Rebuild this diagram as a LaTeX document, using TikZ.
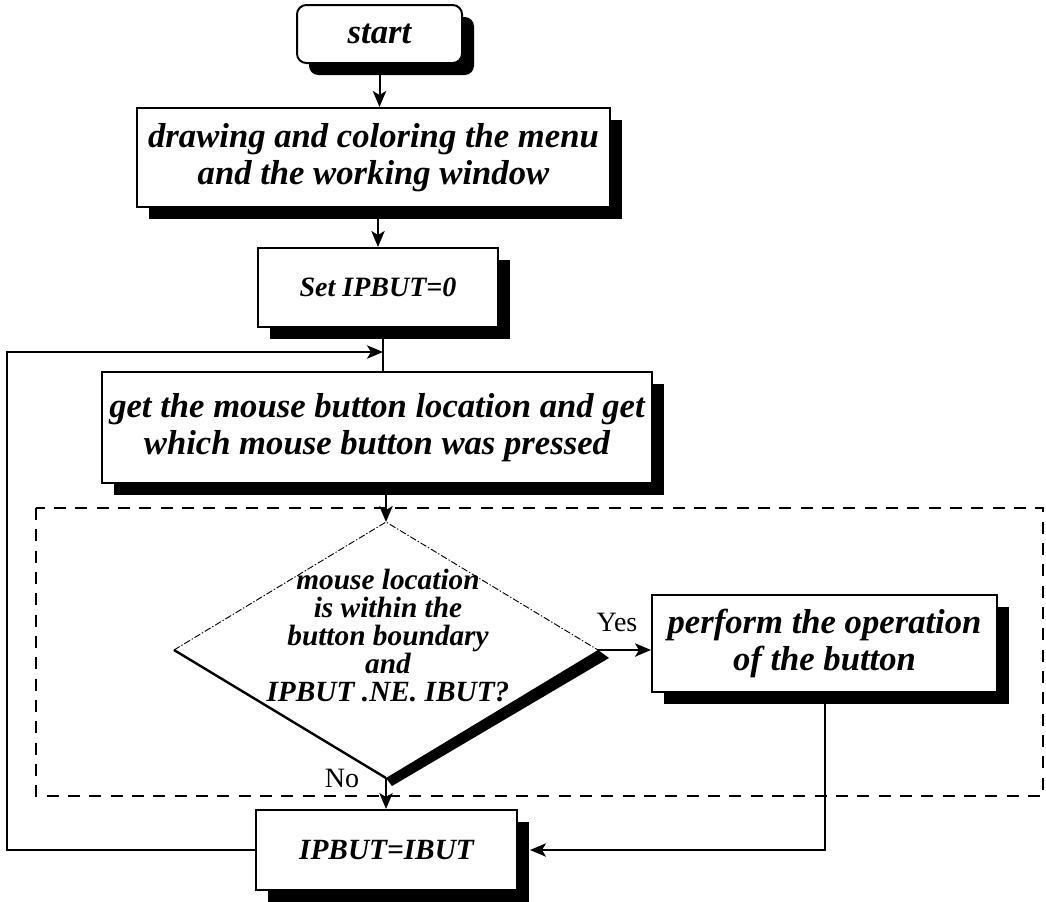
\documentclass[tikz,border=0pt]{standalone}
\usepackage{fontspec}
\setmainfont{Liberation Serif}
\usetikzlibrary{arrows.meta,shapes.geometric,shadows,calc}
\begin{document}
\begin{tikzpicture}[x=0.75pt,y=-0.75pt,
  box/.style={draw, line width=1.5pt, fill=white, align=center, inner sep=2pt,
    font=\bfseries\itshape\fontsize{26}{28}\selectfont,
    drop shadow={shadow xshift=9pt, shadow yshift=-9pt, fill=black, opacity=1}},
  dtext/.style={align=center, inner sep=0pt,
    font=\bfseries\itshape\fontsize{22}{21}\selectfont},
  lab/.style={inner sep=0pt, font=\fontsize{21}{24}\selectfont},
  conn/.style={line width=1.5pt},
  arr/.style={line width=1.5pt, -{Stealth[length=12pt,width=10pt,inset=3pt]}},
  frame/.style={line width=1.8pt, dash pattern=on 9pt off 7pt},
  faint/.style={line width=0.7pt, dash pattern=on 5pt off 1.5pt on 1pt off 1.5pt}
]
\useasboundingbox (0,0) rectangle (1046,901);

% group frame around the decision
\draw[frame] (36,508) rectangle (1043,796);

% process boxes
\node[box, rounded corners=7pt, minimum width=123.75pt, minimum height=43.5pt] (start) at (379.5,34) {start};
\node[box, minimum width=354.75pt, minimum height=74.25pt] (init) at (373.5,157.5)
  {drawing and coloring the menu\\and the working window};
\node[box, minimum width=180pt, minimum height=59.25pt,
  font=\bfseries\itshape\fontsize{21}{24}\selectfont] (set) at (378,287.5) {Set IPBUT=0};
\node[box, minimum width=412.5pt, minimum height=83.25pt] (get) at (377,427.5)
  {get the mouse button location and get\\which mouse button was pressed};
\node[box, minimum width=258.75pt, minimum height=72.75pt] (perf) at (824.5,643.5)
  {perform the operation\\of the button};
\node[box, minimum width=195.75pt, minimum height=60pt,
  font=\bfseries\itshape\fontsize{22}{24}\selectfont] (upd) at (386.5,850) {IPBUT=IBUT};

% decision diamond, edges drawn one by one
\node[diamond, minimum width=318pt, minimum height=192pt, inner sep=0pt, outer sep=0pt] (dec) at (386,650) {};
\fill (dec.east) -- ++(11,8) -- ($(dec.south)+(6,8)$) -- (dec.south) -- cycle;
\draw[faint] (dec.west) -- (dec.north) -- (dec.east);
\draw[line width=1.8pt] (dec.west) -- (dec.south);
\node[dtext] (dectext) at (388,636)
  {mouse location\\is within the\\button boundary\\and\\IPBUT .NE. IBUT?};

% connectors
\coordinate (join) at (383,352);
\coordinate (loopx) at (7,352);
\draw[arr] (start.south) -- (start.south |- init.north);
\draw[arr] (init.south -| set.north) -- (set.north);
\draw[conn] (join |- set.south) -- (join |- get.north);
\draw[arr] (get.south -| dec.north) -- (dec.north);
\draw[arr] (dec.east) -- (dec.east -| perf.west);
\node[lab] (yes) at (617,622) {Yes};
\draw[arr] (dec.south) -- (dec.south |- upd.north);
\node[lab] (no) at (342,778) {No};
\draw[arr] (perf.south) |- ([xshift=9pt]upd.east);
\draw[arr] (upd.west) -- (upd.west -| loopx) |- (join);
\end{tikzpicture}
\end{document}
